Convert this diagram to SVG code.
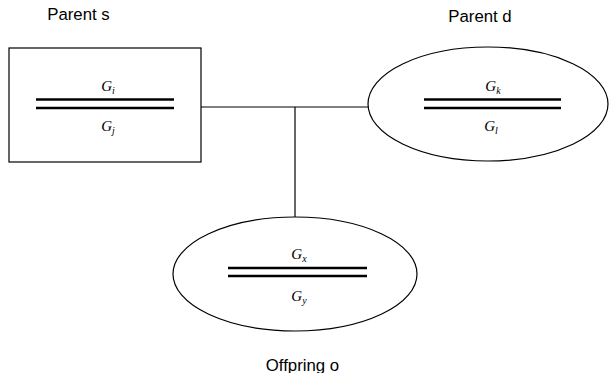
<svg xmlns="http://www.w3.org/2000/svg" width="609" height="373" viewBox="0 0 609 373">
<style>
.shape{fill:#fff;stroke:#000;stroke-width:1.2}
.bar{stroke:#000;stroke-width:2.6}
.lbl{font-family:"Liberation Sans",Arial,sans-serif;font-size:16.8px;fill:#000;text-anchor:middle}
.m{font-family:"Liberation Serif","Times New Roman",serif;font-style:italic;font-size:15px;fill:#000;text-anchor:middle}
.sub{font-size:10px}
.conn{stroke:#000;stroke-width:1.2;fill:none}
</style>
<rect width="609" height="373" fill="#fff"/>
<g id="connectors">
<line class="conn" x1="201" y1="107" x2="369" y2="107"/>
<line class="conn" x1="295" y1="107" x2="295" y2="217"/>
</g>
<g id="parent-s">
<text class="lbl" x="78.5" y="19.5">Parent s</text>
<rect class="shape" x="9" y="48" width="192" height="114"/>
<line class="bar" x1="36" y1="99.5" x2="174" y2="99.5"/>
<line class="bar" x1="36" y1="108" x2="174" y2="108"/>
<text class="m" x="108" y="91">G<tspan class="sub" dy="3">i</tspan></text>
<text class="m" x="108" y="131">G<tspan class="sub" dy="3">j</tspan></text>
</g>
<g id="parent-d">
<text class="lbl" x="480" y="22">Parent d</text>
<ellipse class="shape" cx="488" cy="104" rx="120" ry="57"/>
<line class="bar" x1="424" y1="99.5" x2="561" y2="99.5"/>
<line class="bar" x1="424" y1="108" x2="561" y2="108"/>
<text class="m" x="493" y="91">G<tspan class="sub" dy="3">k</tspan></text>
<text class="m" x="491" y="131">G<tspan class="sub" dy="3">l</tspan></text>
</g>
<g id="offspring-o">
<ellipse class="shape" cx="295" cy="274" rx="122" ry="57"/>
<line class="bar" x1="228" y1="268" x2="367" y2="268"/>
<line class="bar" x1="228" y1="276" x2="367" y2="276"/>
<text class="m" x="299" y="259">G<tspan class="sub" dy="3">x</tspan></text>
<text class="m" x="299" y="301">G<tspan class="sub" dy="3">y</tspan></text>
<text class="lbl" x="302.5" y="371">Offpring o</text>
</g>
</svg>
